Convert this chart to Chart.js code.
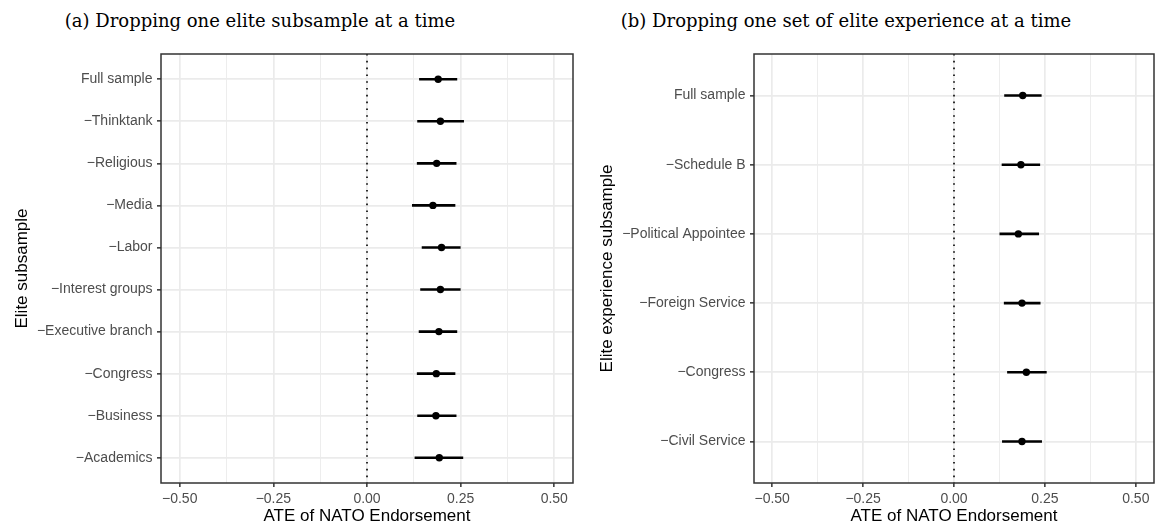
<!DOCTYPE html>
<html>
<head>
<meta charset="utf-8">
<script src="https://cdn.jsdelivr.net/npm/chart.js@4.4.1/dist/chart.umd.min.js"></script>
<style>
  body { margin: 0; background: #fff; }
  #wrap { position: relative; width: 1158px; height: 527px; }
  .cap { position: absolute; top: 11px; transform: translateX(-50%); white-space: nowrap;
         font-family: "DejaVu Serif", serif; font-size: 18px; line-height: 20px; color: #000; }
  canvas { position: absolute; top: 0; }
</style>
</head>
<body>
<div id="wrap">
  <div class="cap" style="left:260px">(a) Dropping one elite subsample at a time</div>
  <div class="cap" style="left:846px">(b) Dropping one set of elite experience at a time</div>
  <canvas id="canvas" width="579" height="527" style="left:0"></canvas>
  <canvas id="canvas1" width="579" height="527" style="left:579px"></canvas>
</div>
<script>
// panel (a): elite subsamples
let catsA = ['Full sample', '\u2212Thinktank', '\u2212Religious', '\u2212Media', '\u2212Labor',
  '\u2212Interest groups', '\u2212Executive branch', '\u2212Congress', '\u2212Business', '\u2212Academics'];
let estA = [0.190, 0.196, 0.186, 0.176, 0.199, 0.196, 0.192, 0.185, 0.184, 0.193];
let loA  = [0.140, 0.135, 0.134, 0.121, 0.147, 0.143, 0.139, 0.134, 0.135, 0.128];
let hiA  = [0.240, 0.258, 0.238, 0.235, 0.249, 0.249, 0.240, 0.235, 0.238, 0.256];

// panel (b): elite experience
let catsB = ['Full sample', '\u2212Schedule B', '\u2212Political Appointee', '\u2212Foreign Service',
  '\u2212Congress', '\u2212Civil Service'];
let estB = [0.189, 0.184, 0.177, 0.187, 0.199, 0.187];
let loB  = [0.139, 0.132, 0.126, 0.138, 0.147, 0.133];
let hiB  = [0.240, 0.236, 0.233, 0.237, 0.254, 0.241];

// x axis: grid every 0.125, labels on the 0.25 ones
let xGrid = [-0.5, -0.375, -0.25, -0.125, 0, 0.125, 0.25, 0.375, 0.5];
let xMin = -0.55, xMax = 0.55;

const isMajor = v => Math.abs(v * 4 - Math.round(v * 4)) < 1e-9;
const sans = '"Liberation Sans", Arial, sans-serif';

const frame = {
  id: 'frame',
  beforeDatasetsDraw(chart) {
    const {ctx, chartArea} = chart;
    const x0 = chart.scales.x.getPixelForValue(0);
    ctx.save();
    ctx.strokeStyle = '#000';
    ctx.lineWidth = 1.6;
    ctx.setLineDash([1.6, 5.2]);
    ctx.beginPath();
    ctx.moveTo(x0, chartArea.top);
    ctx.lineTo(x0, chartArea.bottom);
    ctx.stroke();
    ctx.restore();
  },
  afterDatasetsDraw(chart) {
    const {ctx, chartArea: a} = chart;
    ctx.save();
    ctx.strokeStyle = '#333333';
    ctx.lineWidth = 1.5;
    ctx.strokeRect(a.left, a.top, a.right - a.left, a.bottom - a.top);
    ctx.restore();
  }
};

function grafico(idCanvas, cats, est, lo, hi, yTitle, yAxisWidth, padRight, yTitlePad) {
  const ctx = document.getElementById(idCanvas);
  new Chart(ctx, {
    type: 'bar',
    data: {
      datasets: [{
        type: 'scatter',
        data: est.map((v, i) => ({x: v, y: i})),
        backgroundColor: '#000',
        borderColor: '#000',
        pointRadius: 3.7,
        pointBorderWidth: 0
      }, {
        type: 'bar',
        data: lo.map((v, i) => ({x: [v, hi[i]], y: i})),
        backgroundColor: '#000',
        borderWidth: 0,
        barThickness: 2
      }]
    },
    options: {
      indexAxis: 'y',
      responsive: false,
      animation: false,
      devicePixelRatio: 1,
      layout: {padding: {top: 54, right: padRight, bottom: 0, left: 0}},
      plugins: {legend: {display: false}, tooltip: {enabled: false}},
      scales: {
        x: {
          type: 'linear',
          min: xMin,
          max: xMax,
          offset: false,
          afterBuildTicks: s => { s.ticks = xGrid.map(v => ({value: v})); },
          afterFit: s => { s.height = 44; },
          ticks: {
            autoSkip: false,
            maxRotation: 0,
            padding: 4,
            color: '#4D4D4D',
            font: {family: sans, size: 14},
            callback: v => isMajor(v) ? v.toFixed(2).replace('-', '\u2212') : ''
          },
          grid: {
            offset: false,
            color: '#EBEBEB',
            lineWidth: c => isMajor(c.tick.value) ? 1.7 : 0.9,
            tickColor: c => isMajor(c.tick.value) ? '#333333' : 'rgba(0,0,0,0)',
            tickWidth: 1.5,
            tickLength: 4
          },
          border: {display: false},
          title: {
            display: true,
            text: 'ATE of NATO Endorsement',
            color: '#000',
            font: {family: sans, size: 17},
            padding: {top: 0, bottom: 0}
          }
        },
        y: {
          type: 'linear',
          reverse: true,
          offset: false,
          min: -0.6,
          max: cats.length - 0.4,
          afterBuildTicks: s => { s.ticks = cats.map((c, i) => ({value: i})); },
          afterFit: s => { s.width = yAxisWidth; },
          ticks: {
            autoSkip: false,
            padding: 4.5,
            color: '#4D4D4D',
            font: {family: sans, size: 14},
            callback: v => cats[v]
          },
          grid: {
            offset: false,
            color: '#EBEBEB',
            lineWidth: 1.7,
            tickColor: '#333333',
            tickWidth: 1.5,
            tickLength: 4
          },
          border: {display: false},
          title: {
            display: true,
            text: yTitle,
            color: '#000',
            font: {family: sans, size: 17},
            padding: {top: yTitlePad, bottom: 0}
          }
        }
      }
    },
    plugins: [frame]
  });
}

grafico('canvas', catsA, estA, loA, hiA, 'Elite subsample', 161, 6, 12);
grafico('canvas1', catsB, estB, loB, hiB, 'Elite experience subsample', 175, 1, 18);
</script>
</body>
</html>
